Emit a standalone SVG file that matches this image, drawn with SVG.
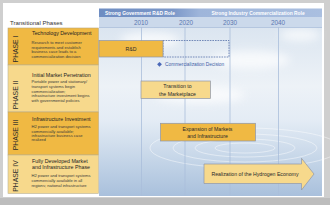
<svg xmlns="http://www.w3.org/2000/svg" width="330" height="205" viewBox="0 0 330 205">
<defs>
<linearGradient id="sky" x1="0" y1="0" x2="0" y2="1">
<stop offset="0" stop-color="#dbe5f0"/>
<stop offset="0.35" stop-color="#edf2f7"/>
<stop offset="0.55" stop-color="#e4ecf5"/>
<stop offset="0.8" stop-color="#c3d4e7"/>
<stop offset="1" stop-color="#a9c0dc"/>
</linearGradient>
<linearGradient id="hdr" x1="0" y1="0" x2="1" y2="0">
<stop offset="0" stop-color="#6e8dc2"/>
<stop offset="0.33" stop-color="#7b97c8"/>
<stop offset="0.45" stop-color="#9eb5da"/>
<stop offset="1" stop-color="#aabfe0"/>
</linearGradient>
<filter id="blur" x="-50%" y="-50%" width="200%" height="200%"><feGaussianBlur stdDeviation="4"/></filter>
<style>
.t{font-family:"Liberation Sans",Arial,sans-serif}
.hd{font-size:4.9px;font-weight:bold;fill:#fff;text-anchor:middle}
.yr{font-size:6.4px;fill:#5a78b0;text-anchor:middle}
.ph{font-size:6.8px;fill:#2a2a2a;text-anchor:middle}
.ti{font-size:5.3px;fill:#222}
.bd{font-size:4.1px;fill:#3a3a3a}
.bx{font-size:5.2px;fill:#2a2a2a;text-anchor:middle}
.grid{stroke:#a9bedb;stroke-width:0.8}
.dk{fill:#f0b943;stroke:#b9a57a;stroke-width:0.6}
.lt{fill:#f7d98c;stroke:#b9b39a;stroke-width:0.6}
.box{stroke:#8e96aa;stroke-width:0.7}
</style>
</defs>
<rect x="0" y="0" width="330" height="205" fill="#cfcfcf"/>
<rect x="0" y="198" width="330" height="7" fill="#bdbdbd"/>
<rect x="3" y="3" width="321" height="194" fill="#ffffff"/>

<g id="background">
<rect x="99" y="27" width="223" height="169" fill="url(#sky)"/>
<g filter="url(#blur)" fill="#ffffff" opacity="0.7">
<ellipse cx="150" cy="40" rx="30" ry="8"/>
<ellipse cx="250" cy="60" rx="40" ry="9"/>
<ellipse cx="300" cy="35" rx="20" ry="6"/>
<ellipse cx="200" cy="95" rx="45" ry="8"/>
</g>
<g fill="none" stroke="#ffffff" stroke-opacity="0.45" stroke-width="1">
<ellipse cx="245" cy="148" rx="30" ry="5"/>
<ellipse cx="245" cy="148" rx="50" ry="9"/>
<ellipse cx="245" cy="148" rx="72" ry="14"/>
<ellipse cx="245" cy="148" rx="95" ry="20"/>
</g>
<line class="grid" x1="99" y1="27.5" x2="322" y2="27.5"/>
<line class="grid" x1="141.5" y1="27" x2="141.5" y2="196"/>
<line class="grid" x1="185" y1="27" x2="185" y2="196"/>
<line class="grid" x1="230" y1="27" x2="230" y2="196"/>
<line class="grid" x1="278.5" y1="27" x2="278.5" y2="196"/>
</g>

<g id="header">
<rect x="99" y="8.5" width="223" height="8.5" fill="url(#hdr)"/>
<rect x="99" y="17" width="223" height="10" fill="#cbd9eb"/>
<text class="t hd" x="140" y="14.6">Strong Government R&amp;D Role</text>
<text class="t hd" x="258" y="14.6">Strong Industry Commercialization Role</text>
<text class="t yr" x="141" y="24.6">2010</text>
<text class="t yr" x="186" y="24.6">2020</text>
<text class="t yr" x="230" y="24.6">2030</text>
<text class="t yr" x="278" y="24.6">2040</text>
</g>

<text class="t" x="10" y="24.8" font-size="6px" fill="#333">Transitional Phases</text>

<g id="phase1">
<rect class="dk" x="8" y="28" width="90.5" height="37"/>
<text class="t ph" transform="translate(17.8,49) rotate(-90)">PHASE I</text>
<text class="t ti" x="32" y="34.9">Technology Development</text>
<text class="t bd" x="31.5" y="44.3">Research to meet customer</text>
<text class="t bd" x="31.5" y="48.7">requirements and establish</text>
<text class="t bd" x="31.5" y="53.1">business case leads to a</text>
<text class="t bd" x="31.5" y="57.5">commercialization decision</text>
</g>

<g id="phase2">
<rect class="lt" x="8" y="65" width="90.5" height="47"/>
<text class="t ph" transform="translate(17.8,95) rotate(-90)">PHASE II</text>
<text class="t ti" x="32" y="76.9">Initial Market  Penetration</text>
<text class="t bd" x="31.5" y="83.3">Portable power and stationary/</text>
<text class="t bd" x="31.5" y="87.9">transport systems begin</text>
<text class="t bd" x="31.5" y="92.5">commercialization;</text>
<text class="t bd" x="31.5" y="97.1">infrastructure investment begins</text>
<text class="t bd" x="31.5" y="101.7">with governmental policies</text>
</g>

<g id="phase3">
<rect class="dk" x="8" y="112" width="90.5" height="43"/>
<text class="t ph" transform="translate(17.8,135) rotate(-90)">PHASE III</text>
<text class="t ti" x="32" y="120.9">Infrastructure Investment</text>
<text class="t bd" x="31.5" y="128.2">H2 power and transport systems</text>
<text class="t bd" x="31.5" y="132.6">commercially available;</text>
<text class="t bd" x="31.5" y="137">infrastructure business case</text>
<text class="t bd" x="31.5" y="141.4">realized</text>
</g>

<g id="phase4">
<rect class="lt" x="8" y="155" width="90.5" height="38.5"/>
<text class="t ph" transform="translate(17.8,176) rotate(-90)">PHASE IV</text>
<text class="t ti" x="32" y="162.6">Fully Developed Market</text>
<text class="t ti" x="32" y="169.2">and Infrastructure Phase</text>
<text class="t bd" x="31.5" y="177.1">H2 power and transport systems</text>
<text class="t bd" x="31.5" y="181.8">commercially available in all</text>
<text class="t bd" x="31.5" y="186.5">regions; national infrastructure</text>
</g>

<g id="rd">
<rect x="163" y="40.5" width="66" height="16.5" fill="none" stroke="#5570a8" stroke-width="0.8" stroke-dasharray="1.6,1"/>
<rect class="box" x="99" y="40.5" width="64" height="16.5" fill="#f0b943"/>
<text class="t bx" x="131" y="50.7">R&amp;D</text>
</g>

<g id="decision">
<path d="M159.5,61.9 L161.9,64.3 L159.5,66.7 L157.1,64.3 Z" fill="#4a68b8"/>
<text class="t" x="165" y="66" font-size="4.8px" fill="#3f5ea6">Commercialization Decision</text>
</g>

<g id="transition">
<rect class="box" x="141" y="81" width="69.5" height="17.5" fill="#f7d98c"/>
<text class="t bx" x="177.5" y="88.4">Transition to</text>
<text class="t bx" x="177.5" y="95.5">the Marketplace</text>
</g>

<g id="expansion">
<rect class="box" x="160.5" y="123.3" width="95" height="17.7" fill="#f0b943"/>
<text class="t bx" x="207.5" y="131.2">Expansion of Markets</text>
<text class="t bx" x="207.5" y="138.2">and Infrastructure</text>
</g>

<g id="realization">
<path class="box" d="M204,164 L301.5,164 L301.5,158.3 L314,174 L301.5,190 L301.5,183.5 L204,183.5 Z" fill="#f7d98c" stroke="#8494b8"/>
<text class="t bx" x="255" y="175.8">Realization of the Hydrogen Economy</text>
</g>

<g id="connectors"/>
</svg>
